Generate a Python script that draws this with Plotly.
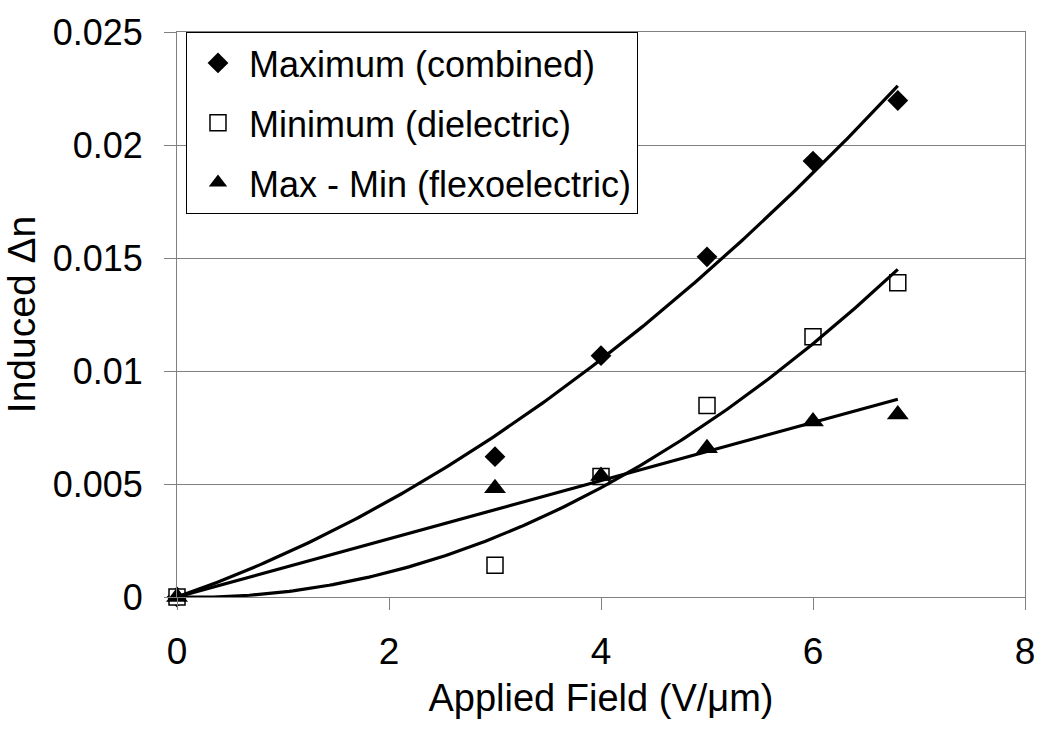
import numpy as np
import plotly.graph_objects as go

# Measured induced birefringence versus applied field
field = [0, 3, 4, 5, 6, 6.8]
dn_max = [0, 0.00621, 0.01068, 0.01505, 0.01929, 0.02197]
dn_min = [0, 0.0014, 0.00533, 0.00847, 0.01152, 0.0139]
dn_flexo = [0, 0.00481, 0.00535, 0.00658, 0.00777, 0.00807]

y_tickvals = [0, 0.005, 0.01, 0.015, 0.02, 0.025]
y_ticktext = ["0", "0.005", "0.01", "0.015", "0.02", "0.025"]
x_tickvals = [0, 2, 4, 6, 8]

FONT = "Liberation Sans, Arial, sans-serif"


def trendline(x, y, powers):
    """Least-squares fit through the origin using the given powers of x."""
    x = np.asarray(x, float)
    y = np.asarray(y, float)
    A = np.column_stack([x ** p for p in powers])
    coef, *_ = np.linalg.lstsq(A, y, rcond=None)
    xs = np.linspace(0, x.max(), 200)
    ys = sum(c * xs ** p for c, p in zip(coef, powers))
    return xs, ys


fig = go.Figure()

series = [
    ("Maximum (combined)", dn_max, dict(symbol="diamond", size=16, color="black")),
    ("Minimum (dielectric)", dn_min, dict(symbol="square", size=16, color="white",
                                          line=dict(color="black", width=1.5))),
    ("Max - Min (flexoelectric)", dn_flexo, dict(symbol="triangle-up", size=19, color="black")),
]
for i, (name, vals, marker) in enumerate(series):
    fig.add_trace(go.Scatter(x=field, y=vals, mode="markers", name=name,
                             marker=marker, legendgroup=f"g{i}", cliponaxis=False))

# Trendlines: 2nd-order polynomials for max/min, linear for the flexoelectric part
fits = [(dn_max, [1, 2]), (dn_min, [1, 2]), (dn_flexo, [1])]
for vals, powers in fits:
    xs, ys = trendline(field, vals, powers)
    fig.add_trace(go.Scatter(x=xs, y=ys, mode="lines", showlegend=False,
                             line=dict(color="black", width=3.2), hoverinfo="skip",
                             cliponaxis=False))

fig.update_layout(
    width=1047, height=729,
    margin=dict(l=177, r=19, t=25, b=132),
    paper_bgcolor="white", plot_bgcolor="white",
    font=dict(family=FONT, color="black", size=36),
    showlegend=True,
    legend=dict(x=0.0106, y=1.0, xanchor="left", yanchor="top",
                bgcolor="white", bordercolor="black", borderwidth=1,
                font=dict(family=FONT, size=36, color="black"),
                tracegroupgap=10, traceorder="grouped", itemwidth=52),
    xaxis=dict(range=[0, 8], tickvals=x_tickvals, ticks="outside", ticklen=12,
               tickcolor="#808080", showline=True, linecolor="#808080", linewidth=1,
               mirror=True, showgrid=False, zeroline=False,
               tickfont=dict(size=37), ticklabelstandoff=10,
               title=dict(text="Applied Field (V/\u03bcm)", font=dict(size=38), standoff=12)),
    yaxis=dict(range=[0, 0.025], tickvals=y_tickvals, ticktext=y_ticktext,
               ticks="outside", ticklen=12, tickcolor="#808080",
               showline=True, linecolor="#808080", linewidth=1, mirror=True,
               showgrid=True, gridcolor="#808080", gridwidth=1, zeroline=False,
               tickfont=dict(size=36), ticklabelstandoff=14,
               title=dict(text="Induced \u0394n", font=dict(size=39), standoff=10)),
)

fig.write_html("out.html")
